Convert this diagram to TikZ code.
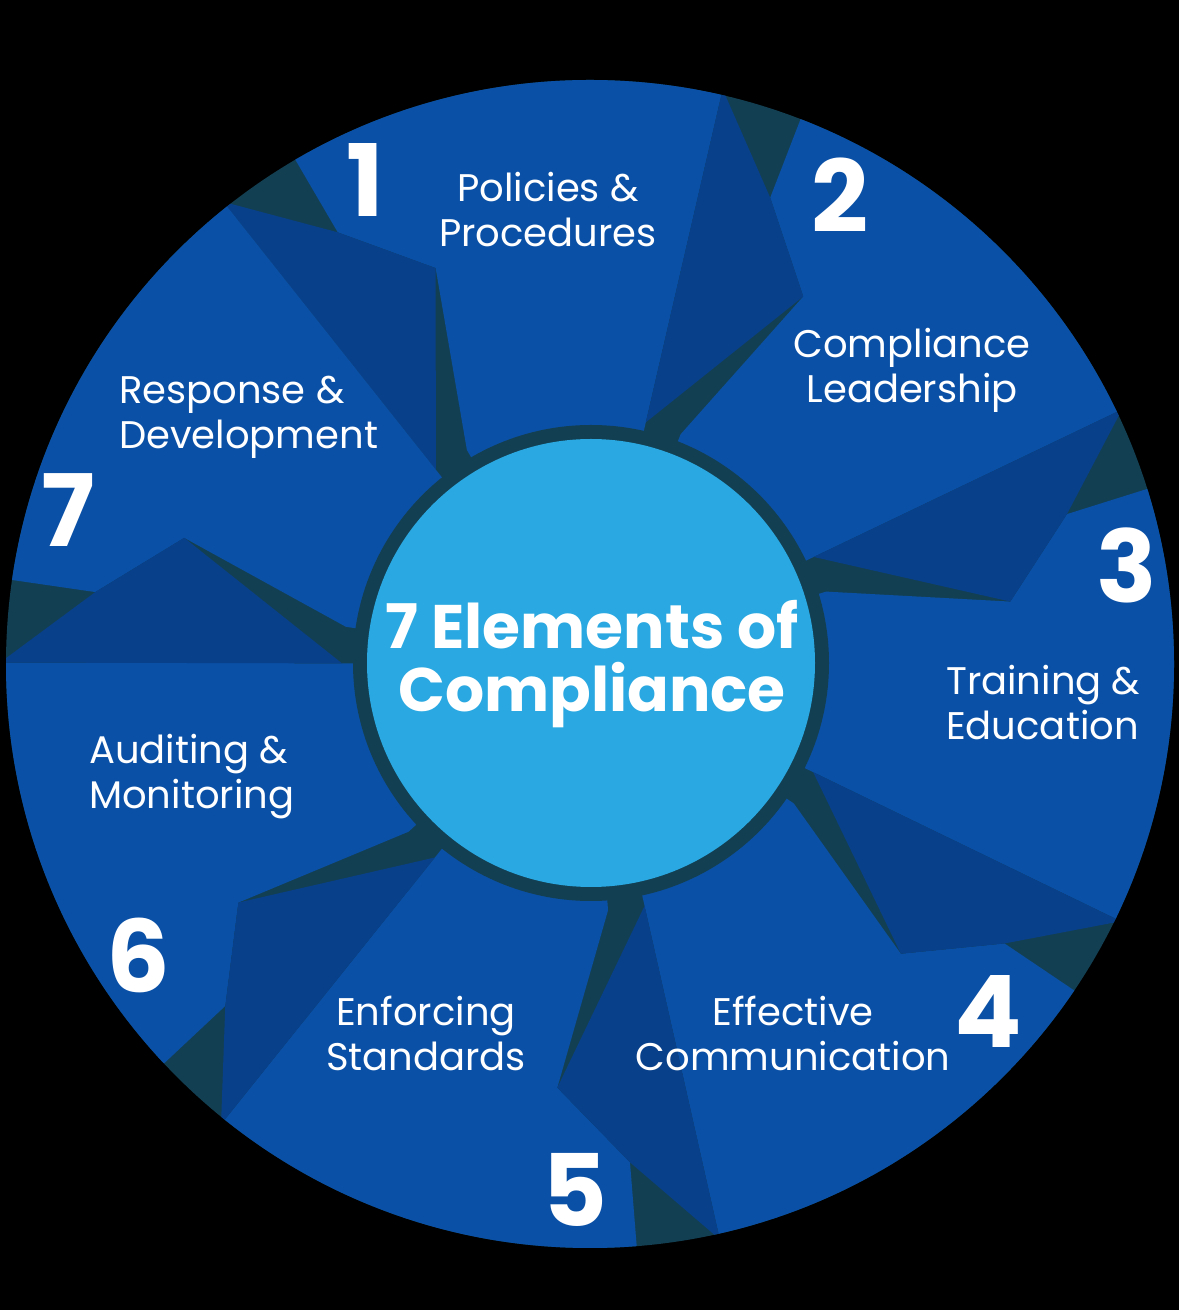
\documentclass[tikz,border=0pt]{standalone}
\usepackage{fontspec}
\setmainfont{Poppins}
\usetikzlibrary{calc}
\definecolor{panelblue}{RGB}{10,80,166}
\definecolor{foldblue}{RGB}{8,64,138}
\definecolor{gapteal}{RGB}{19,63,82}
\definecolor{hubblue}{RGB}{41,168,225}
\begin{document}
\begin{tikzpicture}[x=1pt,y=1pt,
  numlab/.style={text=white,font=\fontsize{100}{100}\selectfont\bfseries,inner sep=0pt},
  itemlab/.style={text=white,font=\fontsize{38.5}{45}\selectfont,inner sep=0pt,align=center},
  itemleft/.style={itemlab,align=left,anchor=west},
  titlelab/.style={text=white,font=\fontsize{61.5}{63}\selectfont\bfseries,inner sep=0pt,align=center}]
\fill[black] (0,0) rectangle (1179,1310);
\useasboundingbox (0,0) rectangle (1179,1310);
\coordinate (C) at (590,646);
\fill[gapteal] (C) circle (584);
\begin{scope}
  \clip (C) circle (584);
  \foreach \k in {0,...,6}{
    \begin{scope}[shift={(C)},rotate={-51.4286*\k}]
      \fill[panelblue] (77:650) -- (120.3:650) -- (120.3:500) -- (111.3:425) -- (119.9:247) -- (119.9:150) -- (77:150) -- cycle;
      \fill[foldblue] (128.43:590) -- (120.3:500) -- (111.3:425) -- (128.43:248) -- cycle;
    \end{scope}
  }
\end{scope}
\coordinate (H) at (591,647);
\fill[gapteal] (H) circle (238);
\fill[hubblue] (H) circle (224);
\node[titlelab] (title) at (592,646) {7 Elements of\\Compliance};
\node[itemlab] (pol) at (548,1100) {Policies \&\\Procedures};
\node[itemlab] (lead) at (912,940) {Compliance\\Leadership};
\node[itemleft] (train) at (946,607) {Training \&\\Education};
\node[itemlab] (comm) at (793,277) {Effective\\Communication};
\node[itemlab] (enf) at (426,277) {Enforcing\\Standards};
\node[itemleft] (aud) at (89,533) {Auditing \&\\Monitoring};
\node[itemleft] (resp) at (119,893) {Response \&\\Development};
\node[numlab] (n1) at (365,1130) {1};
\node[numlab] (n2) at (840,1115) {2};
\node[numlab] (n3) at (1127,745) {3};
\node[numlab] (n4) at (988,298) {4};
\node[numlab] (n5) at (575,120) {5};
\node[numlab] (n6) at (138,355) {6};
\node[numlab] (n7) at (68,800) {7};
\end{tikzpicture}
\end{document}
